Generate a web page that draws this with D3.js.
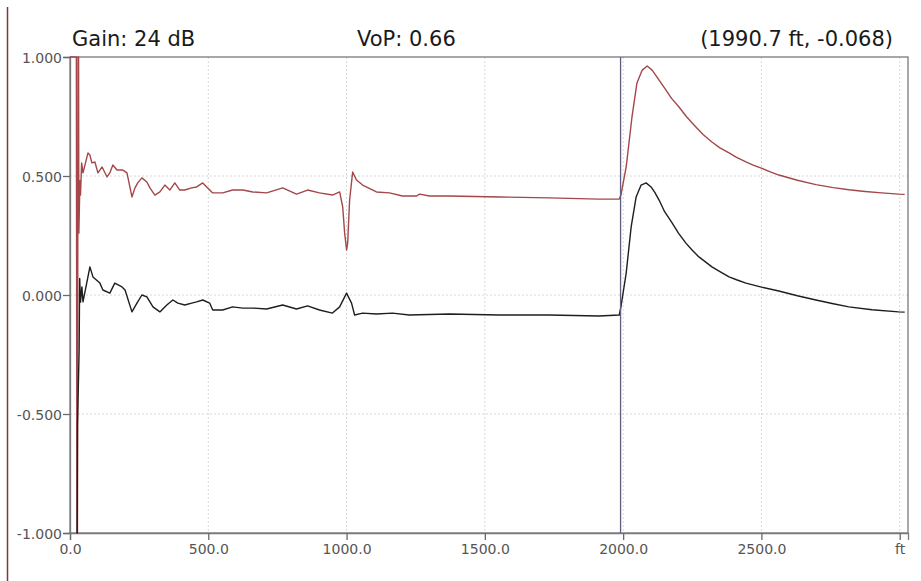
<!DOCTYPE html>
<html>
<head>
<meta charset="utf-8">
<script src="https://cdn.jsdelivr.net/npm/d3@7"></script>
<style>
  html, body { margin: 0; padding: 0; background: #fff; }
  svg { display: block; }
</style>
</head>
<body>
<svg id="chart" width="921" height="581"></svg>
<script>
// ---- data ----
const headerGain = "Gain: 24 dB";
const headerVop = "VoP: 0.66";
const headerCursor = "(1990.7 ft, -0.068)";
const cursorFt = 1990.7;

const xTickValues = [0, 500, 1000, 1500, 2000, 2500, 3000];
const xTickLabels = ["0.0", "500.0", "1000.0", "1500.0", "2000.0", "2500.0", "ft"];
const yTickValues = [1, 0.5, 0, -0.5, -1];
const yTickLabels = ["1.000", "0.500", "0.000", "-0.500", "-1.000"];

const redX = [0, 23, 25, 27, 29, 31, 32, 36, 38, 42, 47, 65, 72, 79, 90, 101, 116, 134, 144, 155, 170, 191, 206, 224, 235, 245, 260, 278, 289, 307, 325, 343, 361, 379, 397, 415, 440, 458, 480, 498, 516, 552, 588, 625, 661, 711, 769, 819, 859, 902, 949, 975, 986, 993, 1000, 1004, 1011, 1022, 1036, 1058, 1108, 1155, 1202, 1253, 1264, 1300, 1372, 1552, 1733, 1913, 1986, 1992, 2011, 2032, 2050, 2069, 2087, 2105, 2130, 2155, 2175, 2202, 2230, 2263, 2290, 2321, 2350, 2383, 2410, 2444, 2470, 2502, 2530, 2563, 2630, 2697, 2760, 2816, 2875, 2935, 2996, 3018];
const redY = [1, 1, -1, -1, 1, 1, 0.26, 0.48, 0.42, 0.555, 0.513, 0.597, 0.588, 0.555, 0.559, 0.513, 0.538, 0.496, 0.513, 0.546, 0.525, 0.525, 0.513, 0.412, 0.450, 0.471, 0.492, 0.475, 0.450, 0.420, 0.433, 0.462, 0.441, 0.471, 0.441, 0.441, 0.450, 0.454, 0.471, 0.450, 0.429, 0.429, 0.441, 0.441, 0.433, 0.429, 0.450, 0.424, 0.441, 0.429, 0.420, 0.433, 0.370, 0.261, 0.189, 0.218, 0.399, 0.517, 0.483, 0.462, 0.433, 0.429, 0.416, 0.416, 0.424, 0.416, 0.416, 0.412, 0.408, 0.403, 0.403, 0.420, 0.538, 0.748, 0.891, 0.945, 0.962, 0.945, 0.903, 0.861, 0.826, 0.790, 0.748, 0.706, 0.673, 0.643, 0.618, 0.597, 0.578, 0.559, 0.546, 0.532, 0.518, 0.504, 0.482, 0.464, 0.451, 0.442, 0.435, 0.429, 0.424, 0.423];

const blackX = [24, 26, 27, 33, 35, 38, 43, 47, 72, 83, 108, 119, 144, 162, 188, 199, 224, 242, 260, 278, 300, 325, 350, 372, 390, 415, 440, 458, 480, 505, 516, 552, 588, 625, 661, 711, 769, 819, 859, 902, 949, 975, 1000, 1018, 1029, 1058, 1108, 1166, 1227, 1372, 1552, 1733, 1913, 1986, 1992, 2011, 2029, 2047, 2065, 2083, 2101, 2115, 2130, 2150, 2177, 2200, 2227, 2250, 2274, 2300, 2321, 2350, 2383, 2410, 2444, 2500, 2563, 2630, 2697, 2760, 2816, 2900, 2996, 3018];
const blackY = [-1, -1, -0.55, -0.23, 0.07, -0.03, 0.034, -0.029, 0.118, 0.076, 0.050, 0.021, 0.008, 0.050, 0.034, 0.021, -0.071, -0.034, 0.000, -0.008, -0.050, -0.071, -0.042, -0.021, -0.034, -0.042, -0.034, -0.029, -0.021, -0.034, -0.063, -0.063, -0.050, -0.055, -0.055, -0.059, -0.042, -0.059, -0.046, -0.063, -0.076, -0.050, 0.008, -0.034, -0.084, -0.076, -0.080, -0.076, -0.084, -0.080, -0.084, -0.084, -0.088, -0.084, -0.050, 0.092, 0.286, 0.412, 0.462, 0.471, 0.454, 0.430, 0.399, 0.350, 0.303, 0.260, 0.218, 0.188, 0.160, 0.137, 0.118, 0.098, 0.076, 0.064, 0.050, 0.033, 0.017, -0.003, -0.021, -0.037, -0.050, -0.062, -0.071, -0.072];

// ---- layout ----
const svg = d3.select("#chart");
const plotLeft = 70, plotRight = 908, plotTop = 57, plotBottom = 533;
const x = d3.scaleLinear().domain([0, 3030]).range([plotLeft, plotRight]);
const y = d3.scaleLinear().domain([-1, 1]).range([plotBottom, plotTop]);

// window border on the left
svg.append("line").attr("x1", 7.5).attr("x2", 7.5).attr("y1", 7).attr("y2", 581)
  .attr("stroke", "#7a3b3b").attr("stroke-width", 1.5);

// header text
const hdr = svg.append("g").attr("font-family", "'DejaVu Sans', Verdana, sans-serif")
  .attr("font-size", 21).attr("fill", "#1a1a1a");
hdr.append("text").attr("x", 72).attr("y", 46).text(headerGain);
hdr.append("text").attr("x", 357).attr("y", 46).text(headerVop);
hdr.append("text").attr("x", 893).attr("y", 46).attr("text-anchor", "end").text(headerCursor);

// grid
const grid = svg.append("g").attr("stroke", "#d8d8d8").attr("stroke-dasharray", "2,2").attr("stroke-width", 1);
xTickValues.filter(v => v > 0).forEach(v => {
  grid.append("line").attr("x1", x(v)).attr("x2", x(v)).attr("y1", plotTop).attr("y2", plotBottom);
});
yTickValues.filter(v => v > -1 && v < 1).forEach(v => {
  grid.append("line").attr("x1", plotLeft).attr("x2", plotRight).attr("y1", y(v)).attr("y2", y(v));
});

// frame
svg.append("rect").attr("x", plotLeft).attr("y", plotTop).attr("width", plotRight - plotLeft).attr("height", plotBottom - plotTop)
  .attr("fill", "none").attr("stroke", "#7a7a7a").attr("stroke-width", 1.3);

// axes
const xAxis = d3.axisBottom(x).tickValues(xTickValues)
  .tickFormat((d, i) => xTickLabels[i]).tickSize(7).tickPadding(4);
const gx = svg.append("g").attr("transform", `translate(0,${plotBottom})`).call(xAxis);
const yAxis = d3.axisLeft(y).tickValues(yTickValues)
  .tickFormat((d, i) => yTickLabels[i]).tickSize(7).tickPadding(1);
const gy = svg.append("g").attr("transform", `translate(${plotLeft},0)`).call(yAxis);
[gx, gy].forEach(g => {
  g.select(".domain").attr("stroke", "#7a7a7a").attr("stroke-width", 1.3);
  g.selectAll(".tick line").attr("stroke", "#6a6a6a").attr("stroke-width", 1.3);
  g.selectAll(".tick text").attr("font-family", "'DejaVu Sans', Verdana, sans-serif")
    .attr("font-size", 14).attr("fill", "#555");
});
gy.selectAll(".tick text").attr("dy", "0.36em");

// traces
const line = d3.line().x(d => x(d[0])).y(d => y(d[1]));
const redData = redX.map((v, i) => [v, redY[i]]);
const blackData = blackX.map((v, i) => [v, blackY[i]]);

svg.append("path").datum(redData).attr("d", line)
  .attr("fill", "none").attr("stroke", "#a3474a").attr("stroke-width", 1.4)
  .attr("stroke-linejoin", "round");
svg.append("path").datum(blackData).attr("d", line)
  .attr("fill", "none").attr("stroke", "#1e1e1e").attr("stroke-width", 1.4)
  .attr("stroke-linejoin", "round");

// cursor
svg.append("line").attr("x1", x(cursorFt)).attr("x2", x(cursorFt)).attr("y1", plotTop).attr("y2", plotBottom)
  .attr("stroke", "#5f5f80").attr("stroke-width", 1.3);
</script>
</body>
</html>
